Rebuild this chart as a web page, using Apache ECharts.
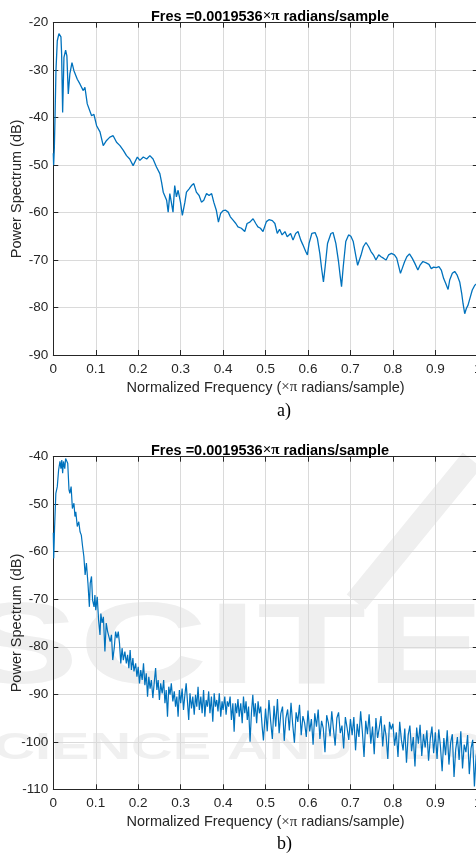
<!DOCTYPE html>
<html>
<head>
<meta charset="utf-8">
<title>Power spectrum</title>
<script src="https://cdn.jsdelivr.net/npm/echarts@6/dist/echarts.min.js"></script>
<style>
  html, body { margin: 0; padding: 0; background: #fff; }
  #chart { width: 476px; height: 859px; }
</style>
</head>
<body>
<div id="chart"></div>
<script>
// x axis ticks (normalized frequency, x pi rad/sample)
const freqTicks = [0, 0.1, 0.2, 0.3, 0.4, 0.5, 0.6, 0.7, 0.8, 0.9, 1];

// a) spectrum
const freqA = [
  0, 0.0008, 0.0024, 0.0039, 0.0063, 0.0094, 0.0133, 0.0157, 0.018, 0.0196,
  0.022, 0.0251, 0.029, 0.032, 0.0353, 0.039, 0.044, 0.0486, 0.053, 0.0565,
  0.0627, 0.0706, 0.0745, 0.08, 0.0847, 0.0902, 0.0957, 0.102, 0.11, 0.1176,
  0.1255, 0.1333, 0.141, 0.149, 0.157, 0.165, 0.1725, 0.18, 0.188, 0.192,
  0.198, 0.204, 0.212, 0.22, 0.2275, 0.235, 0.243, 0.251, 0.255, 0.259,
  0.263, 0.267, 0.2706, 0.2745, 0.278, 0.282, 0.286, 0.29, 0.294, 0.2996,
  0.304, 0.31, 0.3137, 0.32, 0.3255, 0.331, 0.337, 0.3435, 0.349, 0.3545,
  0.361, 0.367, 0.373, 0.378, 0.384, 0.389, 0.394, 0.4, 0.406, 0.412,
  0.417, 0.4235, 0.43, 0.435, 0.443, 0.451, 0.4565, 0.463, 0.4706, 0.477,
  0.482, 0.488, 0.494,
  0.502, 0.508, 0.516, 0.522, 0.5276, 0.533, 0.539, 0.5457, 0.551, 0.559,
  0.5647, 0.571, 0.5765, 0.583, 0.588, 0.5946, 0.5986, 0.6025, 0.609, 0.6167,
  0.622, 0.6278, 0.6325, 0.6364, 0.6404, 0.646, 0.654, 0.659, 0.6656, 0.672,
  0.676, 0.679, 0.683, 0.689, 0.6956, 0.701, 0.7066, 0.713, 0.7169, 0.7208,
  0.7248, 0.7303, 0.7366, 0.743, 0.7484, 0.754, 0.76, 0.7666, 0.772, 0.7776,
  0.784, 0.79, 0.7965, 0.8036, 0.809, 0.8139, 0.8178, 0.8218, 0.8273, 0.8328,
  0.839, 0.8454, 0.8517, 0.8588, 0.8644, 0.8707, 0.8785, 0.8849, 0.8904, 0.896,
  0.9022, 0.9085, 0.914, 0.9196, 0.9243, 0.93, 0.9338, 0.94, 0.9456, 0.951,
  0.9574, 0.962, 0.9653, 0.9692, 0.973, 0.977, 0.9826, 0.987, 0.9929, 0.9984, 1
];
const powerA = [
  -47.5, -50, -46.5, -40.6, -30, -23.8, -22.3, -22, -23, -26.6,
  -38.9, -27.3, -25.8, -27, -35, -30.8, -28.4, -30.1, -29.8, -31.9,
  -32.9, -34.3, -33.6, -37.1, -36.8, -39.6, -39.3, -41.7, -43, -45.9,
  -44.8, -44.1, -43.8, -45.2, -45.9, -46.9, -48, -48.7, -50.1, -50.4,
  -48.3, -49, -48.3, -48.7, -48, -48.7, -50.4, -51.8, -53.6, -55.7,
  -56, -57.4, -59.9, -56, -57.8, -59.9, -54.3, -56.7, -55.3, -57.8,
  -60.6, -57.8, -55.7, -55, -54.3, -53.9, -55.7, -56.4, -57.8, -57.4,
  -56, -56.4, -56, -57.8, -59.5, -62, -60.2, -59.6, -59.5, -59.9,
  -60.9, -61.6, -62.3, -63, -63.3, -64, -62.3, -62, -61.3, -62.3,
  -63, -63.3, -64,
  -61.9, -61.5, -61.7, -62.3, -64.4, -63.5, -64.7, -64, -65.1, -64.4,
  -65.8, -64.4, -64, -65.8, -66.8, -68.2, -68.9, -66.5, -64.4, -64.2,
  -65.4, -68.6, -72.1, -74.6, -71.4, -66.5, -64.4, -64.2, -66.5, -70.4,
  -73.5, -75.6, -71.4, -66.1, -64.7, -65, -66.1, -69.3, -71.1, -70.7,
  -69, -67.2, -66.3, -67.2, -68.2, -68.9, -70, -68.9, -69.3, -69.6,
  -70, -68.9, -68.6, -68.9, -69.6, -71.4, -72.8, -71.8, -70.4, -69.3,
  -68.7, -69.6, -70.7, -72.1, -71, -70.3, -70.6, -70.9, -71.8, -71.5,
  -71.6, -71.4, -72.1, -73.9, -74.9, -76.2, -74.2, -72.8, -72.4, -73.1,
  -74.6, -77, -79.2, -81.3, -80.2, -79.5, -77.7, -76.3, -75.3, -74.9, -75
];

// b) spectrum
const freqB = [
  0, 0.001, 0.003, 0.006, 0.0094, 0.0125, 0.0157, 0.018, 0.02, 0.022,
  0.024, 0.027, 0.029, 0.031, 0.034, 0.037, 0.039, 0.042, 0.045, 0.0486,
  0.051, 0.053, 0.0565, 0.06, 0.063, 0.066, 0.069, 0.072, 0.075, 0.078,
  0.0816, 0.085, 0.087, 0.09, 0.0925, 0.096, 0.098, 0.1, 0.1035, 0.1067,
  0.11, 0.112, 0.115, 0.118, 0.1216, 0.1247, 0.128, 0.131, 0.134, 0.137,
  0.14, 0.1435, 0.1467, 0.15, 0.153, 0.156, 0.159, 0.162, 0.165, 0.1686,
  0.172, 0.175, 0.178, 0.181, 0.184, 0.1875, 0.19, 0.194, 0.197, 0.2,
  0.203, 0.206, 0.2094, 0.2125, 0.2157, 0.219, 0.222, 0.225, 0.228, 0.231,
  0.2345, 0.2376, 0.241, 0.244, 0.247, 0.25, 0.253, 0.2565, 0.26, 0.263,
  0.266, 0.269, 0.272, 0.275, 0.278, 0.2816, 0.285, 0.288, 0.291, 0.294,
  0.297, 0.3, 0.3035, 0.3067, 0.31, 0.313, 0.316, 0.319, 0.322, 0.3255,
  0.3286, 0.332, 0.335, 0.338, 0.341, 0.344, 0.3475, 0.3506, 0.354, 0.357,
  0.36, 0.363, 0.366, 0.369, 0.3725, 0.3757, 0.379, 0.382, 0.385, 0.388,
  0.391, 0.3945, 0.3976, 0.4, 0.404, 0.407, 0.41, 0.413, 0.4165, 0.4196,
  0.423, 0.426, 0.429, 0.432, 0.435, 0.438, 0.4416, 0.445, 0.448, 0.451,
  0.454, 0.457, 0.46, 0.4635, 0.4667, 0.47, 0.473, 0.476, 0.479, 0.4824,
  0.4855, 0.4886, 0.492, 0.495,
  0.5, 0.504, 0.508, 0.512, 0.516, 0.52, 0.524, 0.528, 0.532, 0.536,
  0.54, 0.544, 0.548, 0.552, 0.556, 0.56, 0.564, 0.568, 0.572, 0.576,
  0.58, 0.584, 0.588, 0.592, 0.596, 0.6, 0.604, 0.608, 0.612, 0.616,
  0.62, 0.624, 0.628, 0.632, 0.636, 0.64, 0.644, 0.648, 0.652, 0.656,
  0.66, 0.664, 0.668, 0.672, 0.676, 0.68, 0.684, 0.688, 0.692, 0.696,
  0.7, 0.704, 0.708, 0.712, 0.716, 0.72, 0.724, 0.728, 0.732, 0.736,
  0.74, 0.744, 0.748, 0.752, 0.756, 0.76, 0.764, 0.768, 0.772, 0.776,
  0.78, 0.784, 0.788, 0.792, 0.796, 0.8, 0.804, 0.808, 0.812, 0.816,
  0.82, 0.824, 0.828, 0.832, 0.836, 0.84, 0.844, 0.848, 0.852, 0.856,
  0.86, 0.864, 0.868, 0.872, 0.876, 0.88, 0.884, 0.888, 0.892, 0.896,
  0.9, 0.904, 0.908, 0.912, 0.916, 0.92, 0.924, 0.928, 0.932, 0.936,
  0.94, 0.944, 0.948, 0.952, 0.956, 0.96, 0.964, 0.968, 0.972, 0.976,
  0.98, 0.984, 0.988, 0.992, 0.996, 1
];
const powerB = [
  -56, -61.4, -55, -47.7, -46.3, -42.8, -41, -42.5, -40.7, -43.5,
  -41, -42.5, -40.4, -40, -41.4, -47, -47.7, -46.3, -50.9, -49.8,
  -52.6, -51.6, -54.7, -53.7, -55.8, -56.5, -58.9, -61, -64.9, -62.4,
  -66.6, -71.6, -66.6, -65.2, -70.2, -71.6, -69.1, -72.3, -69.5, -74.4,
  -77.5, -73, -75, -73.7, -81, -75, -76.8, -76.5, -78.9, -77.5,
  -82.8, -80.3, -76.8, -78.2, -76.8, -79.3, -83.5, -80.3, -82.8, -81,
  -83.5, -81.7, -84.5, -80.7, -84.9, -82.4, -85.2, -83.5, -86.3, -84.2,
  -87.7, -84.9, -87, -83.5, -88.1, -85.6, -90.5, -86.3, -88.8, -87,
  -90.8, -87.7, -84.5, -89.1, -87, -91.2, -87.7, -89.8, -87, -91.9,
  -89.1, -94.7, -88.4, -90.1, -87.7, -91.5, -89.4, -92.6, -90.5, -94.7,
  -89.1, -91.9, -88.8, -93.3, -90.1, -87.7, -91.5, -95.4, -89.8, -93,
  -90.5, -94.3, -90.1, -92.6, -88.4, -93.3, -90.5, -94, -89.1, -94.7,
  -91.2, -92.6, -89.4, -94, -90.5, -95.8, -89.8, -92.6, -91.2, -93.6,
  -89.8, -94.7, -91.5, -93.3, -90.5, -94.3, -91.5, -92.6, -90.5, -95.4,
  -91.9, -97.9, -91.9, -94, -91, -94.7, -91.9, -96.1, -90.5, -94,
  -91.5, -95.4, -92.6, -100, -94, -90.1, -94.7, -91.9, -96.1, -91.5,
  -94, -92.6, -96.8, -99.7,
  -93, -97.8, -91.2, -95.6, -99.4, -92.4, -96.8, -91, -98.2, -94,
  -92.6, -99.8, -95, -93.2, -97.6, -91.8, -96.4, -100.2, -93.8, -95.8,
  -92.2, -98.6, -94.6, -96, -99,
  -93.4, -97.8, -95.2, -100.6, -94, -96.8, -93.2, -99.4, -95.6, -97.2,
  -102.2, -94.4, -96, -98.8, -93.6, -97.4, -100.8, -95, -93.8, -98.2,
  -96.6, -101.4, -94.8, -97, -99.6,
  -95.2, -98.6, -94.8, -101.8, -96.2, -99, -93.6, -97.8, -103.2, -95.6,
  -98.4, -94.2, -100.4, -96.8, -102.6, -95, -99.2, -97, -94.6, -101,
  -96.4, -98.8, -103.6, -95.8, -97.4,
  -96.2, -100.8, -98, -103.2, -95.8, -99.6, -101.8, -97.2, -104.4, -98.6,
  -96.6, -102, -99, -105.2, -97, -100.4, -96.4, -103, -98.4, -101.2,
  -97.6, -104, -99.4, -96.8, -102.4,
  -98, -103.6, -97.4, -101, -106.2, -99.2, -102.8, -97.6, -104.8, -100.2,
  -98.4, -107.4, -101.6, -99, -103.8, -97.8, -105.6, -100.6, -102.2, -98.6,
  -106.8, -101.4, -99.6, -109.4, -103,
  -100.8
];

const axisColor = "#262626";
const gridColor = "#dadada";
const lineColor = "#0072BD";
const sansFont = "Liberation Sans";

function pairs(xs, ys) {
  const out = [];
  for (let i = 0; i < Math.min(xs.length, ys.length); i++) {
    out.push([xs[i], ys[i]]);
  }
  return out;
}

// bottom / left axes carry labels and grid, top / right only draw the box
function xAxes(gridIndex) {
  return [
    {
      gridIndex: gridIndex,
      type: "value",
      position: "bottom",
      min: freqTicks[0],
      max: freqTicks[freqTicks.length - 1],
      interval: 0.1,
      name: "Normalized Frequency ({s|×π} radians/sample)",
      nameLocation: "middle",
      nameGap: 25,
      nameMoveOverlap: false,
      nameTextStyle: {
        fontFamily: sansFont,
        fontSize: 14.5,
        color: axisColor,
        rich: { s: { fontFamily: "Liberation Serif", fontSize: 15, color: axisColor } }
      },
      axisLine: { show: true, onZero: false, lineStyle: { color: axisColor, width: 1 } },
      axisTick: { show: true, inside: true, length: 5, lineStyle: { color: axisColor } },
      axisLabel: {
        margin: 7,
        fontFamily: sansFont,
        fontSize: 13.5,
        color: axisColor,
        formatter: function (v) { return String(Math.round(v * 10) / 10); }
      },
      splitLine: { show: true, lineStyle: { color: gridColor, width: 1 } }
    },
    {
      gridIndex: gridIndex,
      type: "value",
      position: "top",
      min: freqTicks[0],
      max: freqTicks[freqTicks.length - 1],
      interval: 0.1,
      axisLine: { show: true, onZero: false, lineStyle: { color: axisColor, width: 1 } },
      axisTick: { show: true, inside: true, length: 5, lineStyle: { color: axisColor } },
      axisLabel: { show: false },
      splitLine: { show: false }
    }
  ];
}

function yAxes(gridIndex, min, max) {
  return [
    {
      gridIndex: gridIndex,
      type: "value",
      position: "left",
      min: min,
      max: max,
      interval: 10,
      name: "Power Spectrum (dB)",
      nameLocation: "middle",
      nameGap: 29,
      nameMoveOverlap: false,
      nameTextStyle: { fontFamily: sansFont, fontSize: 14.5, color: axisColor },
      axisLine: { show: true, onZero: false, lineStyle: { color: axisColor, width: 1 } },
      axisTick: { show: true, inside: true, length: 5, lineStyle: { color: axisColor } },
      axisLabel: { margin: 5, fontFamily: sansFont, fontSize: 13.5, color: axisColor },
      splitLine: { show: true, lineStyle: { color: gridColor, width: 1 } }
    },
    {
      gridIndex: gridIndex,
      type: "value",
      position: "right",
      min: min,
      max: max,
      interval: 10,
      axisLine: { show: true, onZero: false, lineStyle: { color: axisColor, width: 1 } },
      axisTick: { show: true, inside: true, length: 5, lineStyle: { color: axisColor } },
      axisLabel: { show: false },
      splitLine: { show: false }
    }
  ];
}

const titleText = "{b|Fres =0.0019536}{s|×π}{b| radians/sample}";
const titleRich = {
  b: { fontFamily: sansFont, fontWeight: "bold", fontSize: 14.5, color: "#000" },
  s: { fontFamily: "Liberation Serif", fontSize: 15, color: "#000" }
};

const chart = echarts.init(document.getElementById("chart"), null, { renderer: "canvas" });

chart.setOption({
  animation: false,
  backgroundColor: "#fff",
  title: [
    { text: titleText, left: 265, top: 4, textAlign: "center", textStyle: { rich: titleRich } },
    { text: titleText, left: 265, top: 438, textAlign: "center", textStyle: { rich: titleRich } }
  ],
  grid: [
    { left: 53.3, top: 22.7, width: 424.5, height: 332.3, containLabel: false, outerBoundsMode: "none" },
    { left: 53.3, top: 456.7, width: 424.5, height: 332.6, containLabel: false, outerBoundsMode: "none" }
  ],
  xAxis: xAxes(0).concat(xAxes(1)),
  yAxis: yAxes(0, -90, -20).concat(yAxes(1, -110, -40)),
  graphic: [
    // faint publisher watermark behind the lower plot
    {
      type: "line", z: -10, silent: true,
      shape: { x1: 472, y1: 460, x2: 356, y2: 602 },
      style: { stroke: "#efefef", lineWidth: 24 }
    },
    {
      type: "text", z: -10, silent: true, left: -40, top: 594,
      scaleX: 1.55,
      style: { text: "SCITE", fill: "#efefef", font: "bold 115px Liberation Sans" }
    },
    {
      type: "text", z: -10, silent: true, left: -45, top: 731,
      scaleX: 1.6,
      style: { text: "SCIENCE AND TECHNOLOGY", fill: "#f0f0f0", font: "bold 36px Liberation Sans" }
    },
    {
      type: "text", left: 277, top: 402,
      style: { text: "a)", fill: "#000", font: "18px Liberation Serif" }
    },
    {
      type: "text", left: 277, top: 835,
      style: { text: "b)", fill: "#000", font: "18px Liberation Serif" }
    }
  ],
  series: [
    {
      type: "line",
      xAxisIndex: 0,
      yAxisIndex: 0,
      data: pairs(freqA, powerA),
      showSymbol: false,
      symbol: "none",
      lineStyle: { color: lineColor, width: 1.3 }
    },
    {
      type: "line",
      xAxisIndex: 2,
      yAxisIndex: 2,
      data: pairs(freqB, powerB),
      showSymbol: false,
      symbol: "none",
      lineStyle: { color: lineColor, width: 1.2 }
    }
  ]
});
</script>
</body>
</html>
